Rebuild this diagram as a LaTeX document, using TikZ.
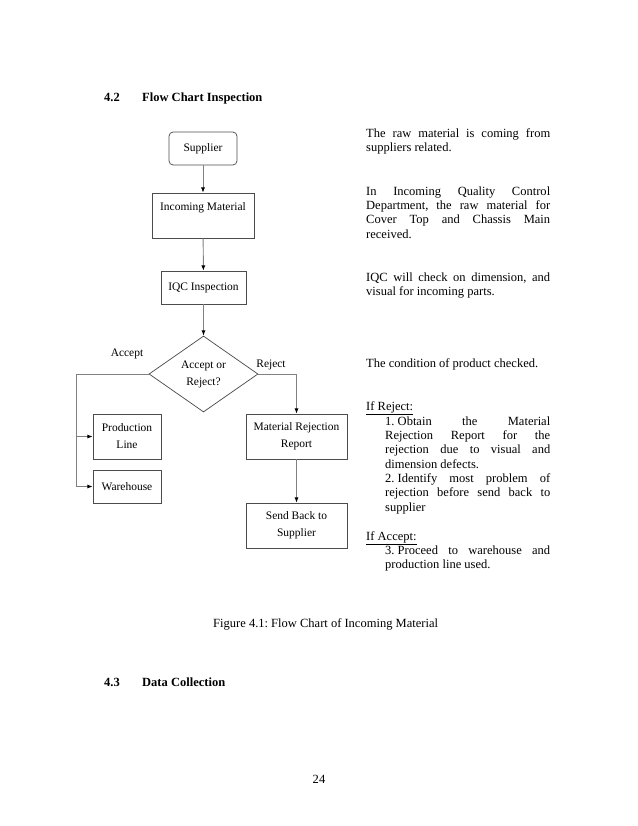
\documentclass[tikz,border=0pt]{standalone}
\usepackage{fontspec}
\setmainfont{Liberation Serif}
\usetikzlibrary{shapes.geometric,arrows.meta}

\newlength\px
\setlength\px{0.9592pt}
\newcommand\chartfont{\fontsize{11}{16.3}\selectfont}
\newcommand\bodyfont{\fontsize{12}{13.8}\selectfont\frenchspacing}

\tikzset{
  box/.style={draw=black!70, line width=0.7pt, font=\chartfont, align=center, inner sep=0pt},
  line/.style={draw=black!50, line width=0.9pt},
  flow/.style={line, -{Latex[color=black,length=5pt,width=4pt]}},
  para/.style={anchor=base west, inner sep=0pt, text width=176.5pt, align=justify, font=\bodyfont},
  item/.style={para, text width=158.3pt},
  plain/.style={anchor=base west, inner sep=0pt, font=\bodyfont},
  heading/.style={plain, font=\bodyfont\bfseries},
}

\begin{document}
\begin{tikzpicture}[x=\px, y=-\px]
        \useasboundingbox (0,0) rectangle (638,826);

        % section headings
        \node[heading] (secnumA) at (104,101) {4.2};
        \node[heading] (secA) at (142,101) {Flow Chart Inspection};
        \node[heading] (secnumB) at (104,686) {4.3};
        \node[heading] (secB) at (142,686) {Data Collection};

        % flow chart boxes
        \node[box, rounded corners=4pt, minimum width=68\px, minimum height=33\px] (supplier) at (203,148.5) {Supplier};
        \node[box, minimum width=102\px, minimum height=45\px] (incoming) at (203,215.5) {Incoming Material\\ \mbox{}};
        \node[box, minimum width=85\px, minimum height=33\px] (iqc) at (203.5,287.5) {IQC Inspection};
        \node[box, diamond, aspect=1.43, minimum width=109\px, minimum height=76\px] (decide) at (203.5,374) {Accept or\\Reject?};
        \node[box, minimum width=68\px, minimum height=45\px] (prod) at (127,436.5) {Production\\Line};
        \node[box, minimum width=68\px, minimum height=33\px] (ware) at (127,486.5) {Warehouse};
        \node[box, minimum width=101\px, minimum height=45\px] (report) at (296.5,436.5) {Material Rejection\\Report};
        \node[box, minimum width=101\px, minimum height=45\px] (sendback) at (296.5,525.5) {Send Back to\\Supplier};

        % connectors
        \coordinate (acc) at (76,374);
        \coordinate (rej) at (296.5,374);
        \draw[flow] (supplier) -- (incoming);
        \draw[flow] (incoming) -- (iqc);
        \draw[flow] (iqc) -- (decide);
        \draw[flow] (decide.west) -- (acc) |- (ware.west);
        \draw[flow] (acc |- prod.west) -- (prod.west);
        \draw[flow] (decide.east) -- (rej) -- (report);
        \draw[flow] (report) -- (sendback);

        % branch labels
        \node[font=\chartfont, anchor=base, inner sep=0pt] (acclabel) at (127,356) {Accept};
        \node[font=\chartfont, anchor=base, inner sep=0pt] (rejlabel) at (271,367) {Reject};

        % notes
        \node[para] (noteA) at (366,137) {The raw material is coming from\linebreak suppliers related.};
        \node[para] (noteB) at (366,195) {In Incoming Quality Control\linebreak Department, the raw material for\linebreak Cover Top and Chassis Main\linebreak received.};
        \node[para] (noteC) at (366,281) {IQC will check on dimension, and\linebreak visual for incoming parts.};
        \node[para] (noteD) at (366,367) {The condition of product checked.};
        \node[plain] (ifrej) at (366,410) {\underline{If Reject:}};
        \node[item] (rejitems) at (385,425) {\mbox{1. Obtain} the Material\linebreak Rejection Report for the\linebreak rejection due to visual and\linebreak dimension defects.\par \mbox{2. Identify} most problem of\linebreak rejection before send back to\linebreak supplier};
        \node[plain] (ifacc) at (366,540) {\underline{If Accept:}};
        \node[item] (accitems) at (385,554) {\mbox{3. Proceed} to warehouse and\linebreak production line used.};

        % caption and page number
        \node[plain] (caption) at (213,627) {Figure 4.1: Flow Chart of Incoming Material};
        \node[plain, anchor=base] (pagenum) at (319,783) {24};
    \end{tikzpicture}
\end{document}
